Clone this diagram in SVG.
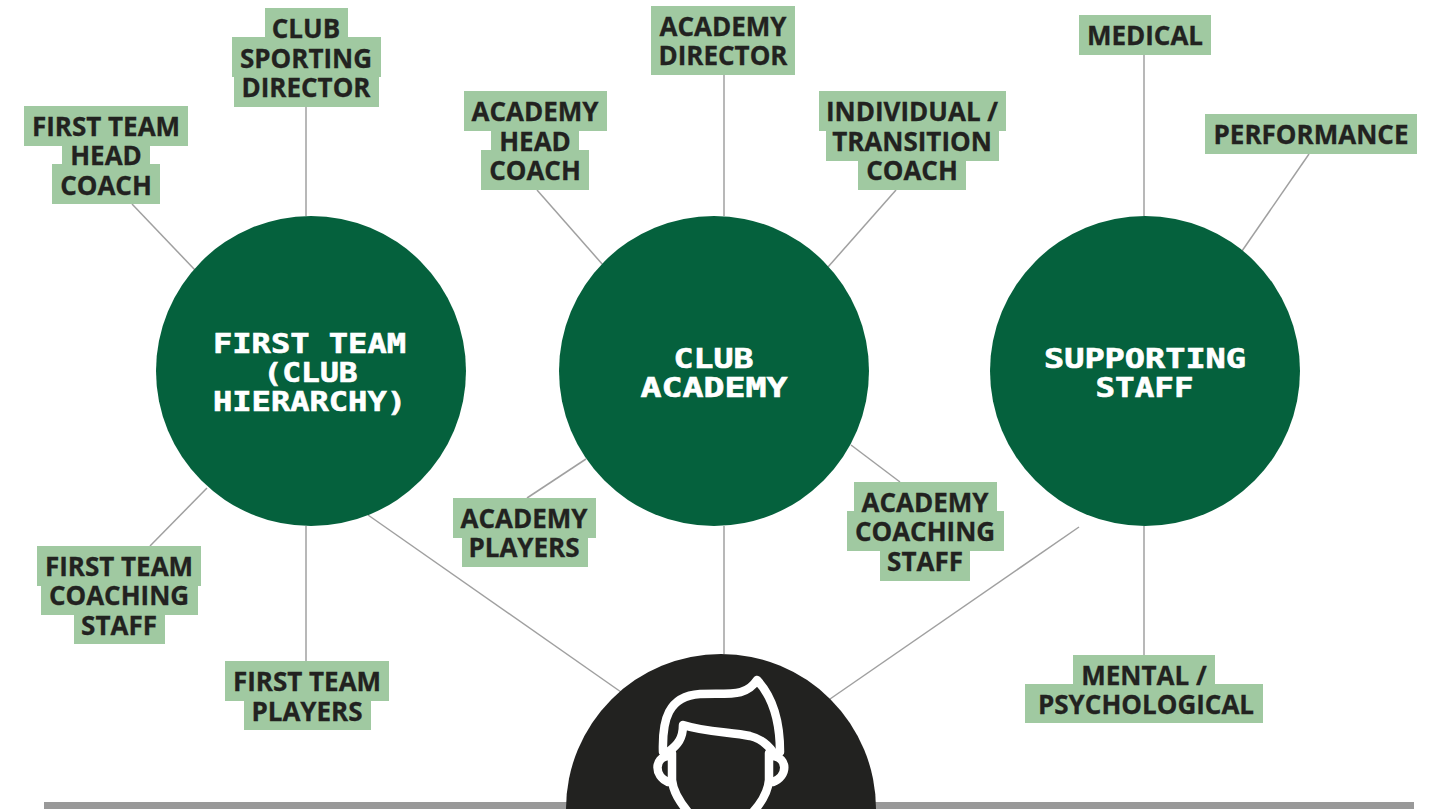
<svg xmlns="http://www.w3.org/2000/svg" width="1439" height="809" viewBox="0 0 1439 809">
<style>
.bg{fill:#a0c9a1}
.t{font:700 26px "Open Sans","Noto Sans",sans-serif;fill:#222220;stroke:#222220;stroke-width:.3;text-anchor:middle}
.h{font:700 26px "DejaVu Sans Mono","Liberation Mono",monospace;fill:#fff;stroke:#fff;stroke-width:.6;text-anchor:middle}
.c{fill:#05613d}
#connectors line{stroke:#a0a0a0;stroke-width:1.5}
.i{fill:none;stroke:#fff;stroke-width:8.5;stroke-linecap:round;stroke-linejoin:round}
</style>
<rect width="1439" height="809" fill="#fff"/>
<rect id="baseline" x="44" y="802" width="1370" height="7" fill="#999"/>
<g id="connectors">
<line x1="306" y1="107" x2="306" y2="216"/><line x1="132" y1="204" x2="195" y2="270"/><line x1="150" y1="546" x2="207" y2="488"/><line x1="306" y1="526" x2="306" y2="661"/><line x1="368" y1="515" x2="621" y2="692"/>
<line x1="537" y1="190" x2="603" y2="265"/><line x1="724" y1="75" x2="724" y2="216"/><line x1="896" y1="190" x2="828" y2="267"/><line x1="527" y1="498" x2="586" y2="459"/><line x1="851" y1="445" x2="900" y2="482"/><line x1="724" y1="526" x2="724" y2="654"/>
<line x1="1144" y1="55" x2="1144" y2="216"/><line x1="1309" y1="154" x2="1242" y2="251"/><line x1="1144" y1="526" x2="1144" y2="655"/><line x1="1079" y1="527" x2="830" y2="699"/>
</g>
<g id="hub-first-team"><circle class="c" cx="311" cy="371" r="155"/><text class="h" x="309.5" y="353" textLength="193" lengthAdjust="spacingAndGlyphs">FIRST TEAM</text><text class="h" x="310.5" y="382" textLength="94" lengthAdjust="spacingAndGlyphs">(CLUB</text><text class="h" x="309.5" y="411" textLength="193" lengthAdjust="spacingAndGlyphs">HIERARCHY)</text></g>
<g id="hub-academy"><circle class="c" cx="714" cy="371" r="155"/><text class="h" x="713.5" y="368" textLength="80" lengthAdjust="spacingAndGlyphs">CLUB</text><text class="h" x="714" y="397" textLength="147" lengthAdjust="spacingAndGlyphs">ACADEMY</text></g>
<g id="hub-support"><circle class="c" cx="1145" cy="371" r="155"/><text class="h" x="1145" y="368" textLength="202" lengthAdjust="spacingAndGlyphs">SUPPORTING</text><text class="h" x="1144.5" y="397" textLength="98" lengthAdjust="spacingAndGlyphs">STAFF</text></g>
<g id="player"><circle cx="721" cy="809" r="155" fill="#222220"/>
<path class="i" d="M663 752C662 720 668 696 700 694C730 693 746 697 757 680C773 697 780 720 780 752"/>
<path class="i" d="M668 752C678 745 683 738 683 725C705 732 730 732 750 736C762 739 768 745 773 752"/>
<path class="i" d="M672 753V780C673 792 680 802 688 812M769 753V780C768 792 762 802 753 812"/>
<path class="i" d="M668 756C654 758 654 776 668 782M773 756C788 758 788 776 773 782"/>
</g>
<g id="n-club-sporting-director"><rect class="bg" x="265" y="8" width="83" height="40"/><rect class="bg" x="232" y="37" width="149" height="40"/><rect class="bg" x="234" y="67" width="145" height="40"/><text class="t" x="306" y="38">CLUB</text><text class="t" x="306" y="68">SPORTING</text><text class="t" x="306" y="97">DIRECTOR</text></g>
<g id="n-first-team-head-coach"><rect class="bg" x="24" y="106" width="164" height="40"/><rect class="bg" x="62" y="135" width="88" height="40"/><rect class="bg" x="52" y="164" width="108" height="40"/><text class="t" x="106" y="136">FIRST TEAM</text><text class="t" x="106" y="165">HEAD</text><text class="t" x="106" y="195">COACH</text></g>
<g id="n-academy-head-coach"><rect class="bg" x="464" y="91" width="143" height="40"/><rect class="bg" x="491" y="121" width="88" height="40"/><rect class="bg" x="481" y="150" width="108" height="40"/><text class="t" x="535" y="121">ACADEMY</text><text class="t" x="535" y="151">HEAD</text><text class="t" x="535" y="180">COACH</text></g>
<g id="n-academy-director"><rect class="bg" x="651" y="6" width="144" height="40"/><rect class="bg" x="651" y="35" width="144" height="40"/><text class="t" x="723" y="36">ACADEMY</text><text class="t" x="723" y="65">DIRECTOR</text></g>
<g id="n-transition-coach"><rect class="bg" x="819" y="91" width="187" height="40"/><rect class="bg" x="826" y="121" width="173" height="40"/><rect class="bg" x="858" y="150" width="108" height="40"/><text class="t" x="912" y="121">INDIVIDUAL /</text><text class="t" x="912" y="151">TRANSITION</text><text class="t" x="912" y="180">COACH</text></g>
<g id="n-medical"><rect class="bg" x="1079" y="15" width="132" height="40"/><text class="t" x="1145" y="45">MEDICAL</text></g>
<g id="n-performance"><rect class="bg" x="1205" y="114" width="212" height="40"/><text class="t" x="1311" y="144">PERFORMANCE</text></g>
<g id="n-academy-players"><rect class="bg" x="453" y="498" width="143" height="40"/><rect class="bg" x="462" y="527" width="126" height="40"/><text class="t" x="524" y="528">ACADEMY</text><text class="t" x="524" y="557">PLAYERS</text></g>
<g id="n-academy-coaching-staff"><rect class="bg" x="854" y="482" width="143" height="40"/><rect class="bg" x="847" y="511" width="157" height="40"/><rect class="bg" x="880" y="541" width="90" height="40"/><text class="t" x="925" y="512">ACADEMY</text><text class="t" x="925" y="541">COACHING</text><text class="t" x="925" y="571">STAFF</text></g>
<g id="n-first-team-coaching-staff"><rect class="bg" x="37" y="546" width="164" height="40"/><rect class="bg" x="41" y="575" width="157" height="40"/><rect class="bg" x="74" y="604" width="91" height="40"/><text class="t" x="119" y="576">FIRST TEAM</text><text class="t" x="119" y="605">COACHING</text><text class="t" x="119" y="635">STAFF</text></g>
<g id="n-first-team-players"><rect class="bg" x="225" y="661" width="164" height="40"/><rect class="bg" x="244" y="690" width="127" height="40"/><text class="t" x="307" y="691">FIRST TEAM</text><text class="t" x="307" y="721">PLAYERS</text></g>
<g id="n-mental"><rect class="bg" x="1073" y="655" width="142" height="40"/><rect class="bg" x="1025" y="684" width="238" height="39"/><text class="t" x="1144" y="685">MENTAL /</text><text class="t" x="1146" y="714">PSYCHOLOGICAL</text></g>
</svg>
